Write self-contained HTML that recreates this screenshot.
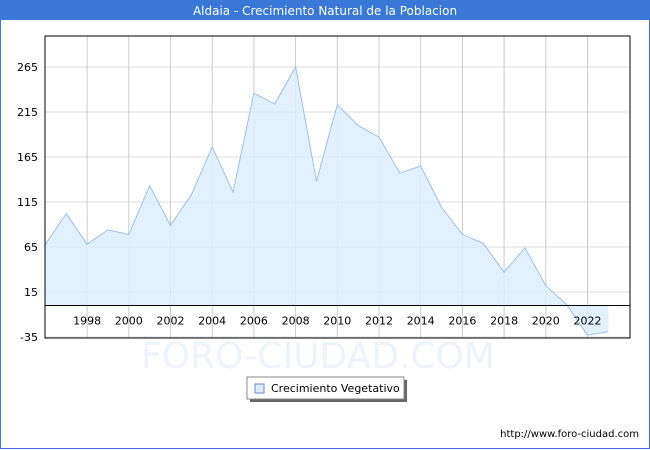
<!DOCTYPE html>
<html><head><meta charset="utf-8"><style>
body{margin:0;width:650px;height:450px;font-family:"DejaVu Sans","Liberation Sans",sans-serif;}
#wrap{position:relative;width:648px;height:448px;border:1px solid #3a78d8;border-top:none;background:#fff;}
</style></head><body>
<div id="wrap">
<svg id="c" width="648" height="449" style="position:absolute;left:0;top:0">
<rect x="-1" y="0" width="650" height="20" fill="#3a78d8"/>
<text x="324" y="15" text-anchor="middle" fill="#fff" font-size="12">Aldaia - Crecimiento Natural de la Poblacion</text>
<text x="317" y="368" text-anchor="middle" fill="#eef2fb" font-size="36">FORO-CIUDAD.COM</text>
<g id="grid"></g><g id="series"></g><g id="axes"></g>
<g>
<rect x="249" y="380" width="157" height="22" fill="#666"/>
<rect x="246" y="377" width="157" height="22" fill="#fff" stroke="#888"/>
<rect x="254" y="384" width="9" height="9" fill="#dbeafc" stroke="#6a8ed0"/>
<text x="270" y="392" font-size="11">Crecimiento Vegetativo</text>
</g>
<text x="638" y="437" text-anchor="end" font-size="10">http://www.foro-ciudad.com</text>
</svg></div>
<script>
const years=[1996,1997,1998,1999,2000,2001,2002,2003,2004,2005,2006,2007,2008,2009,2010,2011,2012,2013,2014,2015,2016,2017,2018,2019,2020,2021,2022,2023];
const values=[68,102,68,84,79,133,89,123,176,126,236,224,265,138,223,200,187,147,155,109,79,69,37,64,22,1,-33,-29];
const yTicks=[-35,15,65,115,165,215,265];
const xTicks=[1998,2000,2002,2004,2006,2008,2010,2012,2014,2016,2018,2020,2022];
const NS="http://www.w3.org/2000/svg";
const L=44,R=629,T=36,B=338;
function x(v){return 586.5-(2022-v)*20.85;}
function y(v){return 305.5-v*0.9;}
function mk(tag,a,p){const e=document.createElementNS(NS,tag);for(const k in a)e.setAttribute(k,a[k]);p.appendChild(e);return e;}
const grid=document.getElementById('grid'),ser=document.getElementById('series'),ax=document.getElementById('axes');
yTicks.forEach(t=>{
 const l=mk('line',{x1:L,x2:R,y1:y(t),y2:y(t),stroke:'#ddd'},grid);
 
 
 const tx=mk('text',{x:L-7,y:y(t)+4,'text-anchor':'end','font-size':'11'},ax);
 tx.textContent=t;
 
 
});
xTicks.forEach(t=>{
 const l=mk('line',{x1:x(t),x2:x(t),y1:T,y2:B,stroke:'#ccc'},grid);
 
 
 const tx=mk('text',{x:x(t),y:y(0)+19,'text-anchor':'middle','font-size':'11'},ax);
 tx.textContent=t;
 
 
});
let pts=years.map((yr,i)=>x(yr)+','+y(values[i]));
const area=mk('polygon',{points:x(years[0])+','+y(0)+' '+pts.join(' ')+' '+x(years[years.length-1])+','+y(0),fill:'#ddeefd','fill-opacity':'0.85'},ser);


const line=mk('polyline',{points:pts.join(' '),fill:'none',stroke:'#9dbfee','stroke-width':'1'},ser);


const z=mk('line',{x1:L,x2:R,y1:y(0),y2:y(0),stroke:'#000'},ax);


const fr=mk('rect',{x:L,y:T,width:R-L,height:B-T,fill:'none',stroke:'#000'},ax);


</script>
</body></html>
